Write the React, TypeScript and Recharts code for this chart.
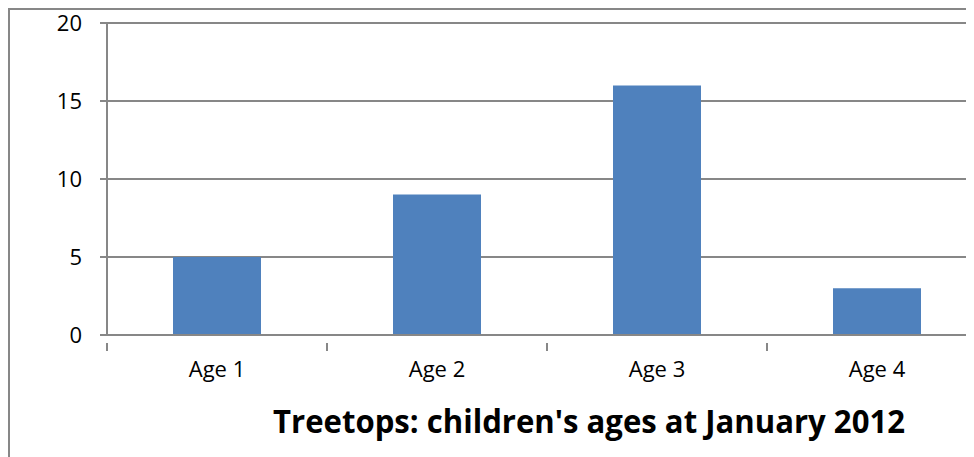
import React from 'react';
import { BarChart, Bar, XAxis, YAxis, CartesianGrid } from 'recharts';

const categories = ['Age 1', 'Age 2', 'Age 3', 'Age 4'];
const childrenCount = [5, 9, 16, 3];
const yTicks = [0, 5, 10, 15, 20];
const title = "Treetops: children's ages at January 2012";

const data = categories.map((name, i) => ({ name, value: childrenCount[i] }));

const GRAY = '#878787';
const FONT = '"Open Sans", "Liberation Sans", sans-serif';

const XTick = (props: any) => {
  const { x, y, payload } = props;
  const off = payload && typeof payload.offset === 'number' ? payload.offset : 0;
  return (
    <g>
      <line x1={x - off} x2={x - off} y1={y - 18} y2={y - 10} stroke={GRAY} strokeWidth={2} />
      <text x={x} y={y} dy="0.71em" textAnchor="middle" fill="#000" fontSize={22} fontFamily={FONT}>
        {payload.value}
      </text>
    </g>
  );
};

export default function App() {
  return (
    <div style={{ width: 966, height: 449, overflow: 'hidden', position: 'relative' }}>
      <div style={{ width: 1010, height: 470, borderTop: `2px solid ${GRAY}`, borderLeft: `2px solid ${GRAY}`, boxSizing: 'border-box' }}>
        <BarChart
          width={1000}
          height={450}
          data={data}
          margin={{ top: 13, right: 23, left: 0, bottom: 0 }}
          barCategoryGap="30%"
          style={{ overflow: 'visible' }}
        >
          <CartesianGrid vertical={false} stroke={GRAY} strokeWidth={2} />
          <XAxis
            dataKey="name"
            height={125}
            tickLine={false}
            tickSize={8}
            tickMargin={18}
            axisLine={{ stroke: GRAY, strokeWidth: 2 }}
            tick={<XTick />}
            interval={0}
          />
          <YAxis
            width={97}
            domain={[0, 20]}
            ticks={yTicks}
            tickSize={7}
            tickMargin={18}
            tickLine={{ stroke: GRAY, strokeWidth: 2 }}
            axisLine={{ stroke: GRAY, strokeWidth: 2 }}
            tick={{ fill: '#000', fontSize: 22, fontFamily: FONT }}
          />
          <Bar dataKey="value" fill="#4f81bd" isAnimationActive={false} />
        </BarChart>
      </div>
      <svg width={966} height={449} style={{ position: 'absolute', left: 0, top: 0, pointerEvents: 'none' }}>
        <text
          x={265}
          y={425}
          fontSize={33}
          fontWeight="bold"
          fontFamily={FONT}
          fill="#000"
          textLength={632}
          lengthAdjust="spacingAndGlyphs"
        >
          {title}
        </text>
      </svg>
    </div>
  );
}
